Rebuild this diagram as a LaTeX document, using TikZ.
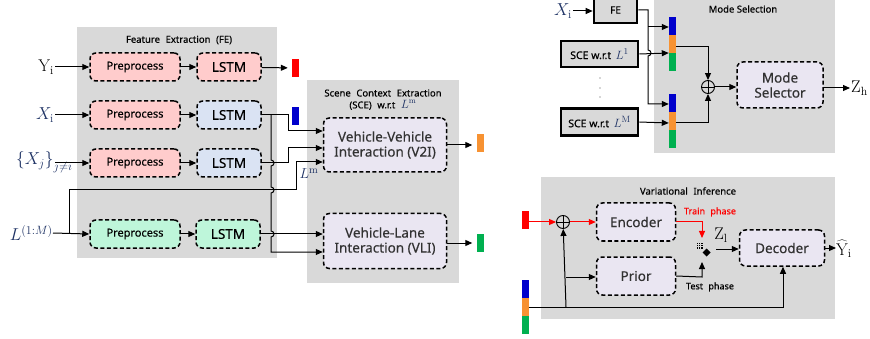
\documentclass[tikz,border=0pt]{standalone}
\usepackage{fontspec}
\setsansfont{Noto Sans}[FakeBold=0.35]
\usetikzlibrary{arrows.meta,calc}
\definecolor{panelgray}{RGB}{217,217,217}
\definecolor{pinkf}{RGB}{255,204,204}
\definecolor{bluef}{RGB}{218,227,243}
\definecolor{greenf}{RGB}{190,246,218}
\definecolor{lavf}{RGB}{234,230,242}
\definecolor{barred}{RGB}{255,0,0}
\definecolor{barblue}{RGB}{0,0,204}
\definecolor{barorange}{RGB}{247,146,50}
\definecolor{bargreen}{RGB}{0,176,80}
\definecolor{navy}{RGB}{30,50,100}
\definecolor{txtgray}{RGB}{50,50,50}
\begin{document}
\begin{tikzpicture}[x=1pt,y=-1pt,
  panel/.style={fill=panelgray},
  dbox/.style={draw, line width=1.5pt, dash pattern=on 4pt off 2.5pt, rounded corners=6pt, inner sep=0pt, align=center, font=\sffamily},
  sbox/.style={draw, line width=2.6pt, fill=panelgray, inner sep=0pt, font=\sffamily\fontsize{10.5}{12}\selectfont},
  pp/.style={dbox, minimum width=90pt, minimum height=28pt, font=\sffamily\fontsize{11}{13}\selectfont},
  lstm/.style={dbox, minimum width=64pt, minimum height=28pt, font=\sffamily\fontsize{13.5}{15}\selectfont},
  big/.style={dbox, fill=lavf, font=\sffamily\fontsize{13.5}{16}\selectfont, text=txtgray},
  ttl/.style={font=\sffamily\fontsize{9.5}{11}\selectfont, inner sep=0pt},
  bar/.style={minimum width=7pt, minimum height=18pt, inner sep=0pt},
  arr/.style={-{Triangle[length=7pt,width=6pt]}, line width=1pt},
  mlab/.style={font=\fontsize{17}{19}\selectfont, inner sep=1pt},
  oplusn/.style={draw, circle, line width=0.9pt, minimum size=13pt, inner sep=0pt, path picture={\draw[line width=0.9pt] (path picture bounding box.north) -- (path picture bounding box.south) (path picture bounding box.west) -- (path picture bounding box.east);}}
]
\useasboundingbox (0,0) rectangle (870,339);

% ===== Feature Extraction panel =====
\fill[panel] (77,27) rectangle (277,258);
\node[ttl] (fetitle) at (179,40) {Feature\,\, Extraction\,\, (FE)};

\node[pp, fill=pinkf] (pp1) at (135,67) {Preprocess};
\node[lstm, fill=pinkf] (ls1) at (229,67) {LSTM};
\node[pp, fill=pinkf] (pp2) at (135,115) {Preprocess};
\node[lstm, fill=bluef] (ls2) at (229,115) {LSTM};
\node[pp, fill=pinkf] (pp3) at (135,163) {Preprocess};
\node[lstm, fill=bluef] (ls3) at (229,163) {LSTM};
\node[pp, fill=greenf] (pp4) at (135,234) {Preprocess};
\node[lstm, fill=greenf] (ls4) at (228,234) {LSTM};

\node[mlab, anchor=east] (inY) at (55,67) {$\mathrm{Y}_{\mathrm{i}}$};
\node[mlab, anchor=east, text=navy] (inX) at (55,115) {$X_{\mathrm{i}}$};
\node[mlab, anchor=west, text=navy, inner sep=0pt] (inXj) at (16,162) {$\left\{X_j\right\}_{j\neq i}$};
\coordinate (xjs) at (55,163);
\node[mlab, anchor=east, text=navy, inner sep=0pt] (inL) at (53,233) {$L^{(1:M)}$};
\coordinate (lj) at (69,234);

\draw[arr] (inY) -- (pp1);
\draw[arr] (inX) -- (pp2);
\draw[arr] (xjs) -- (pp3);
\draw[arr] (inL.east) -- (pp4.west);
\foreach \a/\b in {pp1/ls1,pp2/ls2,pp3/ls3,pp4/ls4} \draw[arr] (\a) -- (\b);

\node[bar, fill=barred] (rb1) at (295.5,68) {};
\node[bar, fill=barblue] (bb1) at (295.5,116.5) {};
\draw[arr, shorten >=4pt] (ls1) -- (rb1);

% ===== SCE panel =====
\fill[panel] (307,80) rectangle (459,283);
\node[ttl] (scet1) at (383,93) {Scene\,\, Context\,\, Extraction};
\node[ttl] (scet2) at (383,105) {(SCE)\,\, w.r.t\,\, {\rmfamily\color{navy}\fontsize{12}{12}\selectfont$L^{\mathrm{m}}$}};
\node[big, minimum width=123pt, minimum height=54pt] (v2i) at (385,145) {Vehicle-Vehicle\\[-1pt]Interaction (V2I)};
\node[big, minimum width=123pt, minimum height=55pt] (vli) at (385,241) {Vehicle-Lane\\[-1pt]Interaction (VLI)};
\node[bar, fill=barorange] (ob1) at (480,143.5) {};
\node[bar, fill=bargreen] (gb1) at (480,243) {};
\draw[arr, shorten >=4pt] (v2i.east) -- (ob1.west |- v2i.east);
\draw[arr, shorten >=4pt] (vli.east |- gb1) -- (gb1);
\node[font=\fontsize{15}{17}\selectfont, text=navy, inner sep=0pt] (lm) at (309,174) {$L^{\mathrm{m}}$};

% wiring FE -> SCE
\draw[arr] (ls2.east) -- (288,115) -- (288,131) -- (v2i.west |- {(0,131)});
\draw[arr] (271,115) -- (271,160) arc[start angle=-90,end angle=90,radius=3]
  -- (271,187) arc[start angle=-90,end angle=90,radius=3]
  -- (271,231) arc[start angle=-90,end angle=90,radius=3]
  -- (271,252) -- (vli.west |- {(0,252)});
\draw[arr] (ls3.east) -- (288,163) -- (288,148) -- (v2i.west |- {(0,148)});
\draw[arr] (lj) -- (69,190) -- (296,190) -- (296,162) -- (v2i.west |- {(0,162)});
\draw[arr] (ls4.east) -- (vli.west |- ls4.east);

% ===== Mode Selection panel =====
\fill[panel] (654,-1) rectangle (835,153);
\node[ttl] (mstitle) at (743,9) {Mode Selection};
\node[sbox, minimum width=43pt, minimum height=26pt, font=\sffamily\fontsize{10}{12}\selectfont] (fe) at (615.5,10) {FE};
\node[mlab, anchor=east, text=navy] (inX2) at (573,11) {$X_{\mathrm{i}}$};
\draw[arr] (inX2) -- (fe.west |- inX2);
\node[sbox, minimum width=77pt, minimum height=26pt] (sce1) at (599.5,54) {SCE w.r.t\, {\rmfamily\color{navy}\fontsize{13}{13}\selectfont$L^{1}$}};
\node[sbox, minimum width=77pt, minimum height=27pt] (sceM) at (599.5,122) {SCE w.r.t\, {\rmfamily\color{navy}\fontsize{13}{13}\selectfont$L^{\mathrm{M}}$}};
\foreach \yy in {78,88,97} \fill[black!70] (600,\yy) circle (0.7pt);

% stacked bars
\node[bar, fill=barblue] (mb1a) at (672.5,26) {};
\node[bar, fill=barorange] (mb1b) at (672.5,44) {};
\node[bar, fill=bargreen] (mb1c) at (672.5,62) {};
\node[bar, fill=barblue] (mb2a) at (672.5,103) {};
\node[bar, fill=barorange] (mb2b) at (672.5,121) {};
\node[bar, fill=bargreen] (mb2c) at (672.5,139) {};

\draw[arr] (fe.east) -- (648,10) -- (648,50) arc[start angle=-90,end angle=90,radius=3] -- (648,104) -- (mb2a.west |- {(0,104)});
\draw[arr] (648,27) -- (mb1a.west |- {(0,27)});
\draw[arr] (sce1.east) -- (mb1b.west |- {(0,53)});
\draw[arr] (sceM.east) -- (mb2b.west |- {(0,123)});

\node[oplusn] (op1) at (708,87) {};
\draw[arr] (mb1b.east |- {(0,47)}) -- (708,47) -- (op1);
\draw[arr] (mb2b.east |- {(0,123)}) -- (708,123) -- (op1);
\node[big, minimum width=86pt, minimum height=46pt] (msel) at (780,85) {Mode\\[-1pt]Selector};
\draw[arr] (op1) -- (msel.west |- op1);
\node[mlab, anchor=west] (zh) at (850,88) {$\mathrm{Z}_{\mathrm{h}}$};
\draw[arr] (msel.east |- zh) -- (zh);

% ===== Variational Inference panel =====
\fill[panel] (541,177) rectangle (835,319);
\node[ttl] (vititle) at (688,191) {Variational\,\, Inference};
\node[bar, fill=barred] (rb2) at (525,220.5) {};
\node[oplusn] (op2) at (563,222) {};
\node[big, minimum width=79pt, minimum height=38pt] (enc) at (636,222) {Encoder};
\node[big, minimum width=79pt, minimum height=38pt] (pri) at (636,276) {Prior};
\node[big, minimum width=85pt, minimum height=36pt] (dec) at (782,248) {Decoder};
\draw[arr, red] (rb2.east |- op2) -- (op2);
\draw[arr, red] (op2) -- (enc);

% switch
\fill[black] (696.5,242.5) rectangle (702.5,248.5);
\draw[panelgray, line width=0.4pt] (698.5,242.5) -- (698.5,248.5) (700.5,242.5) -- (700.5,248.5) (696.5,244.5) -- (702.5,244.5) (696.5,246.5) -- (702.5,246.5);
\fill[black] (706.5,248.5) -- (710.5,252.5) -- (706.5,256.5) -- (702.5,252.5) -- cycle;
\coordinate (swtop) at (702,238);
\coordinate (swbot) at (702,262);
\coordinate (swout) at (716,249);
\draw[arr, red] (enc.east) -- (702,222) -- (swtop);
\draw[arr] (pri.east) -- (702,277) -- (swbot);
\node[font=\sffamily\fontsize{9}{10}\selectfont, text=red, inner sep=0pt] (trl) at (710,212) {Train\,\, phase};
\node[font=\sffamily\fontsize{9}{10}\selectfont, inner sep=0pt] (tel) at (710,287) {Test\,\, phase};
\node[mlab] (zl) at (721,235) {$\mathrm{Z}_{\mathrm{l}}$};
\draw[arr] (swout) -- (dec.west |- swout);
\node[mlab, anchor=west, inner sep=0pt] (yhat) at (836,249) {$\widehat{\mathrm{Y}}_{\mathrm{i}}$};
\draw[arr] (dec.east) -- (yhat.west |- dec.east);

% bottom-left stacked bar
\node[bar, fill=barblue] (lb1) at (525,289) {};
\node[bar, fill=barorange] (lb2) at (525,307) {};
\node[bar, fill=bargreen] (lb3) at (525,325) {};
\coordinate (bj) at (566,307);
\draw[arr] (lb2.east) -- (783,307) -- (dec.south -| {(783,0)});
\draw[arr] (bj) -- (op2);
\draw[arr] (566,277) -- (pri.west |- {(0,277)});
\end{tikzpicture}
\end{document}
